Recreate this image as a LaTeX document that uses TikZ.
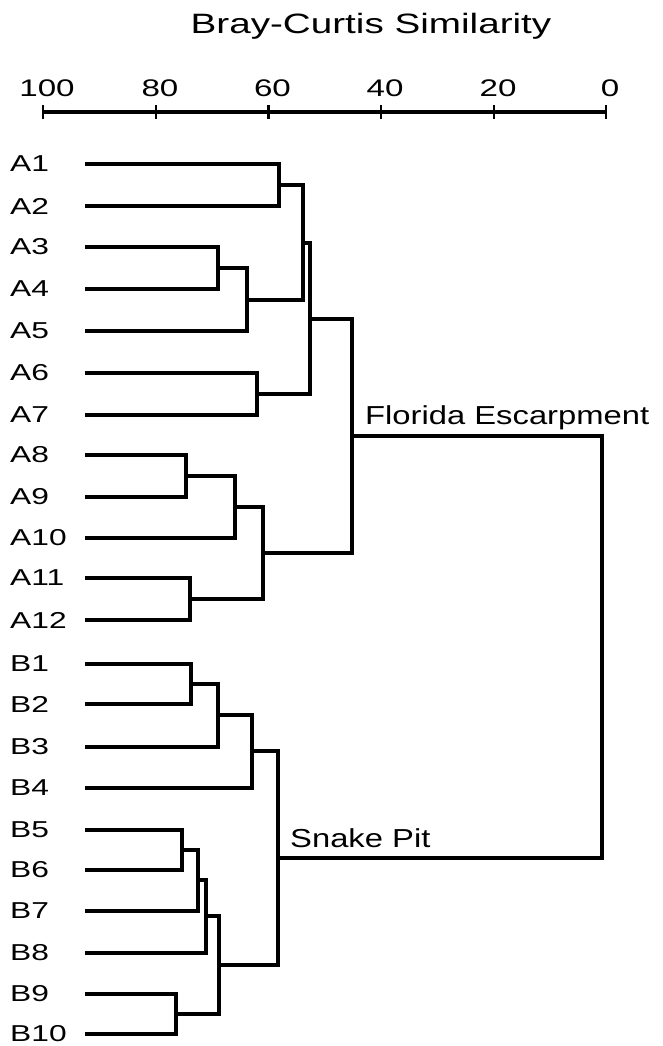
\documentclass[tikz,border=0pt]{standalone}
\usepackage{fontspec}
\setmainfont{Liberation Sans}
\newfontfamily\fTitle{Liberation Sans}[FakeStretch=1.38]
\newfontfamily\fNote{Liberation Sans}[FakeStretch=1.26]
\newfontfamily\fLab{Liberation Sans}[FakeStretch=1.38]
\newcommand\dendjoin[3]{\draw[dline] (#2) -- (#2 -| #1) -- (#3 -| #1) -- (#3);}
\begin{document}
\begin{tikzpicture}[x=1pt,y=-1pt,
  dline/.style={line width=3.2pt,line join=miter},
  axisline/.style={line width=3.2pt},
  tickmark/.style={line width=2.6pt},
  leaflabel/.style={anchor=west,inner sep=0pt,font=\fLab\fontsize{23}{23}\selectfont},
  ticklabel/.style={anchor=base,inner sep=0pt,font=\fLab\fontsize{24}{24}\selectfont},
  titletext/.style={anchor=base,inner sep=0pt,font=\fTitle\fontsize{28}{28}\selectfont},
  grouptext/.style={anchor=base west,inner sep=0pt,font=\fNote\fontsize{26}{26}\selectfont}]
\useasboundingbox (0,0) rectangle (663,1046);
% title
\node[titletext] (title) at (371,34) {Bray-Curtis Similarity};
% axis
\coordinate (ax0) at (43,112);
\coordinate (ax1) at (606,112);
\draw[axisline] (ax0) -- (ax1);
\foreach \v/\x in {100/43,80/156,60/268.5,40/381,20/494,0/606}{
  \coordinate (t\v) at (\x,112);
  \draw[tickmark] ([yshift=-7pt]t\v) -- ([yshift=7pt]t\v);
  \node[ticklabel] (n\v) at ([xshift=4pt]\x,97) {\v};
}
% leaves
\foreach \n/\y in {A1/164,A2/206,A3/247,A4/289,A5/331,A6/373,A7/415,A8/455,A9/497,A10/538,A11/578,A12/620,
                   B1/664,B2/704,B3/747,B4/788,B5/830,B6/870,B7/911,B8/953,B9/994,B10/1034}{
  \node[leaflabel] (l\n) at (10,\y) {\n};
  \coordinate (\n) at (85,\y);
}
% merge points (x = merge level, y = midpoint)
\coordinate (m12) at (279,185);
\coordinate (m34) at (218,268);
\coordinate (m345) at (247,300);
\coordinate (m15) at (303,243);
\coordinate (m67) at (257,394);
\coordinate (m17) at (310,319);
\coordinate (m89) at (186,476);
\coordinate (m810) at (235,507);
\coordinate (m1112) at (190,599);
\coordinate (m812) at (263,553);
\coordinate (mA) at (352,436);
\coordinate (mb12) at (191,684);
\coordinate (mb13) at (218,715);
\coordinate (mb14) at (252,751);
\coordinate (mb56) at (182,850);
\coordinate (mb57) at (198,880);
\coordinate (mb58) at (206,916);
\coordinate (mb910) at (176,1014);
\coordinate (mb510) at (219,965);
\coordinate (mB) at (278,858);
\coordinate (root) at (602,647);
% joins
\dendjoin{m12}{A1}{A2}
\dendjoin{m34}{A3}{A4}
\dendjoin{m345}{m34}{A5}
\dendjoin{m15}{m12}{m345}
\dendjoin{m67}{A6}{A7}
\dendjoin{m17}{m15}{m67}
\dendjoin{m89}{A8}{A9}
\dendjoin{m810}{m89}{A10}
\dendjoin{m1112}{A11}{A12}
\dendjoin{m812}{m810}{m1112}
\dendjoin{mA}{m17}{m812}
\dendjoin{mb12}{B1}{B2}
\dendjoin{mb13}{mb12}{B3}
\dendjoin{mb14}{mb13}{B4}
\dendjoin{mb56}{B5}{B6}
\dendjoin{mb57}{mb56}{B7}
\dendjoin{mb58}{mb57}{B8}
\dendjoin{mb910}{B9}{B10}
\dendjoin{mb510}{mb58}{mb910}
\dendjoin{mB}{mb14}{mb510}
\dendjoin{root}{mA}{mB}
% group labels
\node[grouptext] (fe) at (365,424) {Florida Escarpment};
\node[grouptext] (sp) at (290,847) {Snake Pit};
\end{tikzpicture}
\end{document}
